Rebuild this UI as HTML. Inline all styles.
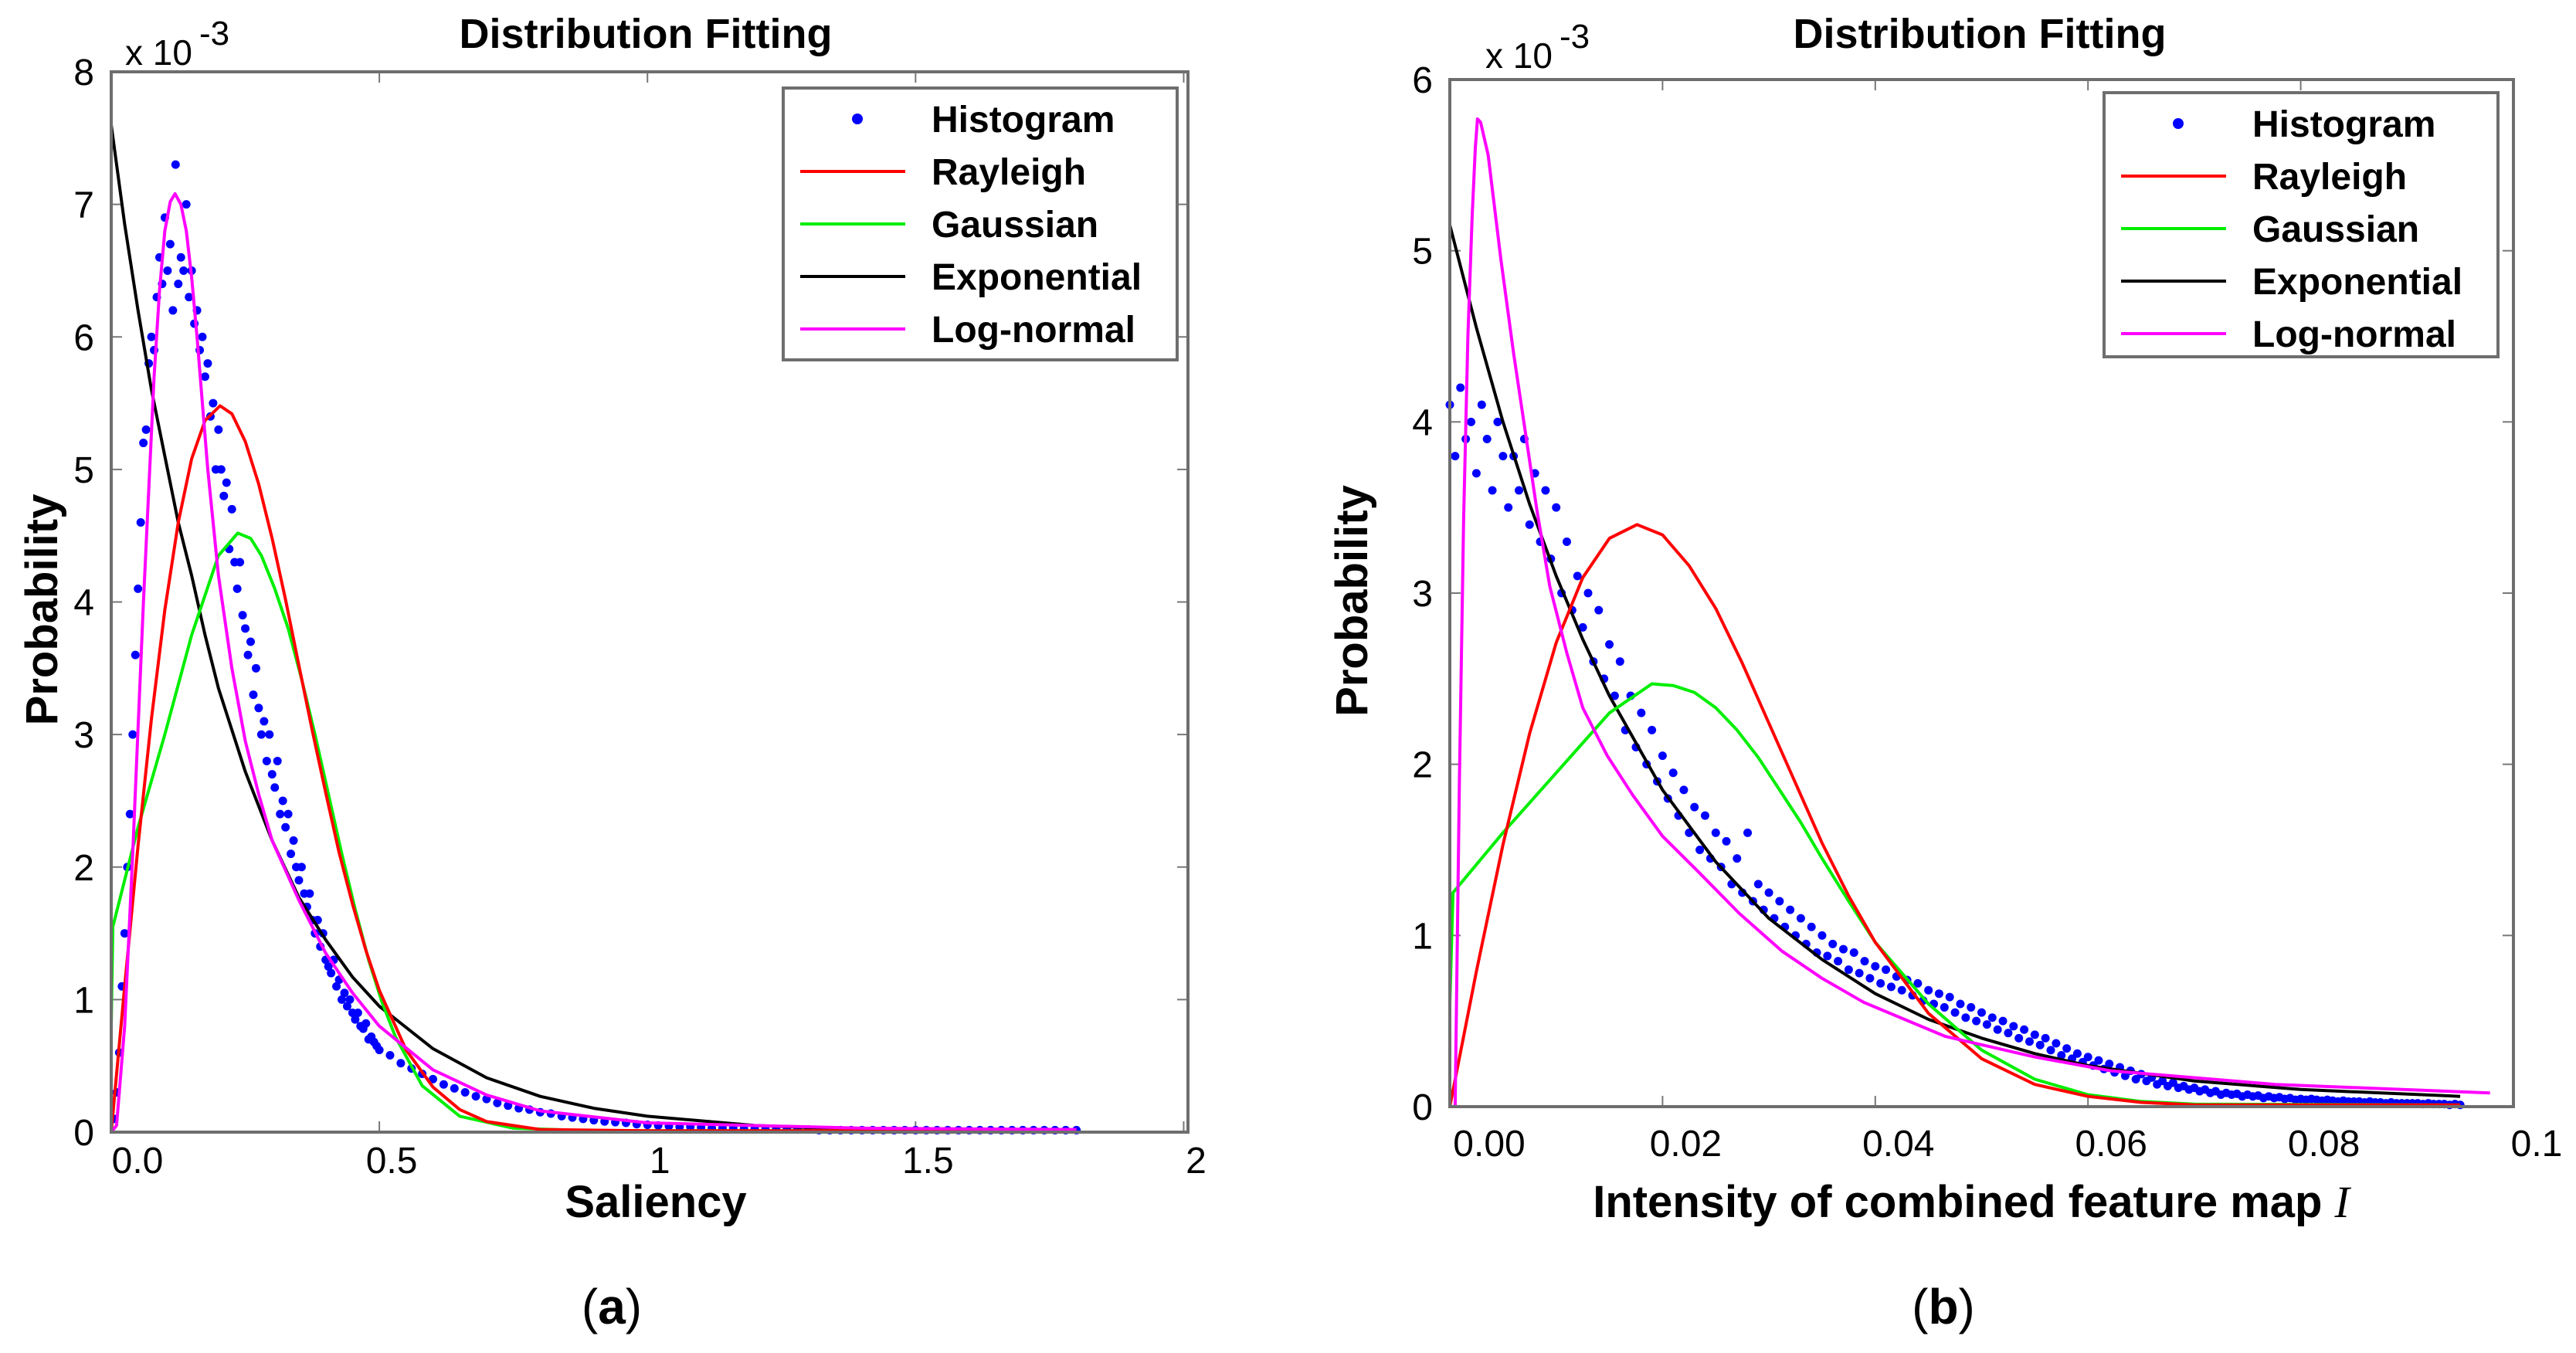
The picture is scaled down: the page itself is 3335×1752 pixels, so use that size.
<!DOCTYPE html>
<html><head><meta charset="utf-8"><title>Distribution Fitting</title>
<style>
html,body{margin:0;padding:0;background:#fff;}
svg{display:block;}
text{font-family:"Liberation Sans",sans-serif;fill:#000;}
</style></head>
<body>
<svg id="fig" width="3335" height="1752" viewBox="0 0 3335 1752" xmlns="http://www.w3.org/2000/svg"></svg>
<script>
// ---------- Panel (a) data ----------
const aXTicks = [0, 0.5, 1, 1.5, 2];
const aXTickLabels = ["0.0", "0.5", "1", "1.5", "2"];
const aYTicks = [0, 1, 2, 3, 4, 5, 6, 7, 8];
const aHist1Start = 0.005, aHist1Step = 0.005;
const aHist1Y = [0.1,0.3,0.6,1.1,1.5,2.0,2.4,3.0,3.6,4.1,4.6,5.2,5.3,5.8,6.0,5.9,6.3,6.6,6.4,6.9,6.5,6.7,6.2,7.3,6.4,6.6,6.5,7.0,6.3,6.5,6.1,6.2,5.9,6.0,5.7,5.8,5.4,5.5,5.0,5.3,5.0,4.8,4.9,4.4,4.7,4.3,4.1,4.3,3.9,3.8,3.6,3.7,3.3,3.5,3.2,3.0,3.1,2.8,3.0,2.7,2.6,2.8,2.4,2.5,2.3,2.4,2.1,2.2,2.0,1.9,2.0,1.8,1.7,1.8,1.6,1.5,1.6,1.4,1.5,1.3,1.25,1.2,1.3,1.1,1.15,1.0,1.05,0.95,1.0,0.9,0.85,0.9,0.8,0.78,0.82,0.7,0.72,0.68,0.65,0.62];
const aHist2Start = 0.52, aHist2Step = 0.02;
const aHist2Y = [0.58,0.52,0.48,0.44,0.4,0.36,0.33,0.3,0.27,0.25,0.22,0.2,0.18,0.17,0.15,0.14,0.12,0.11,0.1,0.09,0.08,0.075,0.07,0.06,0.055,0.05,0.045,0.04,0.04,0.035,0.03,0.03,0.03,0.025,0.025,0.02,0.02,0.02,0.02,0.02,0.015,0.015,0.015,0.015,0.015,0.015,0.015,0.015,0.015,0.015,0.015,0.015,0.015,0.015,0.015,0.015,0.015,0.015,0.015,0.015,0.015,0.015,0.015,0.015,0.015];
const aRayX = [0,0.025,0.05,0.075,0.1,0.125,0.15,0.175,0.203,0.225,0.25,0.275,0.3,0.325,0.35,0.375,0.4,0.425,0.45,0.475,0.5,0.55,0.6,0.65,0.7,0.8,1.0,1.8];
const aRayY = [0,1.10,2.16,3.12,3.94,4.6,5.08,5.37,5.48,5.42,5.21,4.89,4.48,4.02,3.52,3.03,2.56,2.11,1.72,1.37,1.07,0.62,0.34,0.17,0.08,0.02,0.01,0.01];
const aGauX = [0,0.003,0.05,0.1,0.15,0.2,0.236,0.26,0.28,0.305,0.33,0.355,0.38,0.405,0.43,0.455,0.48,0.505,0.53,0.58,0.65,0.75,0.9,1.8];
const aGauY = [0.8,1.55,2.3,3.0,3.75,4.35,4.52,4.48,4.35,4.1,3.8,3.42,3.0,2.55,2.1,1.68,1.3,0.98,0.72,0.35,0.12,0.03,0.01,0.01];
const aExpX = [0,0,0.025,0.05,0.075,0.1,0.125,0.15,0.175,0.2,0.25,0.3,0.35,0.4,0.45,0.5,0.6,0.7,0.8,0.9,1.0,1.2,1.4,1.8];
const aExpY = [0,7.6,6.85,6.2,5.6,5.1,4.6,4.2,3.75,3.35,2.72,2.2,1.77,1.45,1.17,0.95,0.63,0.41,0.27,0.18,0.12,0.05,0.02,0.01];
const aLogX = [0,0.01,0.025,0.04,0.06,0.08,0.09,0.1,0.11,0.119,0.13,0.14,0.15,0.16,0.17,0.18,0.19,0.2,0.225,0.25,0.275,0.3,0.35,0.4,0.45,0.5,0.6,0.7,0.8,1.0,1.4,1.8];
const aLogY = [0,0.05,0.8,2.1,4.0,5.7,6.35,6.8,7.02,7.08,7.0,6.8,6.45,6.0,5.5,5.0,4.6,4.2,3.5,2.95,2.55,2.2,1.75,1.35,1.05,0.8,0.47,0.28,0.16,0.07,0.03,0.02];

// ---------- Panel (b) data ----------
const bXTicks = [0, 0.02, 0.04, 0.06, 0.08, 0.1];
const bXTickLabels = ["0.00", "0.02", "0.04", "0.06", "0.08", "0.1"];
const bYTicks = [0, 1, 2, 3, 4, 5, 6];
const bHistStart = 0, bHistStep = 0.0005;
const bHistY = [4.1,3.8,4.2,3.9,4.0,3.7,4.1,3.9,3.6,4.0,3.8,
3.5,3.8,3.6,3.9,3.4,3.7,3.3,3.6,3.2,3.5,
3.0,3.3,2.9,3.1,2.8,3.0,2.6,2.9,2.5,2.7,
2.4,2.6,2.2,2.4,2.1,2.3,2.0,2.2,1.9,2.05,
1.8,1.95,1.7,1.85,1.6,1.75,1.5,1.7,1.45,1.6,
1.4,1.55,1.3,1.45,1.25,1.6,1.2,1.3,1.15,1.25,
1.1,1.2,1.05,1.15,1.0,1.1,0.95,1.05,0.9,1.0,
0.88,0.95,0.85,0.92,0.8,0.9,0.78,0.85,0.75,0.82,
0.72,0.8,0.7,0.76,0.68,0.74,0.65,0.72,0.62,0.68,
0.6,0.66,0.58,0.64,0.55,0.6,0.52,0.58,0.5,0.55,
0.48,0.52,0.45,0.5,0.43,0.47,0.4,0.45,0.38,0.42,
0.36,0.4,0.33,0.37,0.3,0.34,0.28,0.31,0.26,0.29,
0.24,0.27,0.22,0.25,0.2,0.23,0.18,0.21,0.16,0.19,
0.15,0.17,0.13,0.15,0.12,0.14,0.11,0.12,0.1,0.11,
0.09,0.1,0.08,0.09,0.07,0.08,0.07,0.075,0.06,0.07,
0.06,0.065,0.05,0.06,0.05,0.055,0.045,0.05,0.04,0.045,
0.04,0.045,0.04,0.035,0.04,0.035,0.03,0.035,0.03,0.03,0.03,0.025,0.03,0.025,0.025,0.02,0.025,0.02,0.02,0.02,0.02,0.02,0.015,0.02,0.015,0.015,0.015,0.01,0.015,0.01];
const bRayX = [0,0.0025,0.005,0.0075,0.01,0.0125,0.015,0.0176,0.02,0.0225,0.025,0.0275,0.03,0.0325,0.035,0.0375,0.04,0.045,0.05,0.055,0.06,0.065,0.07,0.095];
const bRayY = [0,0.79,1.53,2.18,2.71,3.09,3.32,3.40,3.34,3.16,2.91,2.59,2.24,1.89,1.54,1.23,0.96,0.545,0.28,0.13,0.06,0.025,0.01,0.01];
const bGauX = [0,0.0003,0.005,0.01,0.015,0.019,0.021,0.023,0.025,0.027,0.029,0.031,0.033,0.035,0.0375,0.04,0.045,0.05,0.055,0.06,0.065,0.07,0.095];
const bGauY = [0.6,1.25,1.6,1.95,2.3,2.47,2.46,2.42,2.33,2.2,2.04,1.85,1.66,1.45,1.2,0.96,0.6,0.33,0.16,0.07,0.03,0.015,0.01];
const bExpX = [0,0,0.0025,0.005,0.0075,0.01,0.0125,0.015,0.02,0.025,0.03,0.035,0.04,0.045,0.05,0.055,0.06,0.07,0.08,0.095];
const bExpY = [2.6,5.15,4.55,4.0,3.52,3.1,2.73,2.4,1.85,1.43,1.1,0.86,0.66,0.51,0.4,0.31,0.24,0.15,0.1,0.06];
const bLogX = [0.0002,0.0005,0.0009,0.0013,0.0017,0.0021,0.0024,0.0026,0.0029,0.0036,0.0048,0.006,0.0071,0.0082,0.0094,0.011,0.0125,0.0148,0.0172,0.02,0.0234,0.0272,0.0312,0.035,0.0389,0.0466,0.055,0.0621,0.0776,0.0978];
const bLogY = [0,0,1.9,3.44,4.5,5.2,5.6,5.77,5.75,5.56,4.95,4.4,3.94,3.48,3.04,2.65,2.33,2.05,1.82,1.58,1.37,1.13,0.91,0.75,0.61,0.41,0.29,0.21,0.13,0.08];

const NS = "http://www.w3.org/2000/svg";
const svg = document.getElementById('fig');
function mk(tag, attrs, parent) {
  const e = document.createElementNS(NS, tag);
  for (const k in attrs) e.setAttribute(k, attrs[k]);
  (parent || svg).appendChild(e);
  return e;
}
function txt(s, attrs, parent) { const t = mk('text', attrs, parent); t.textContent = s; return t; }

function panel(cfg) {
  const g = mk('g', {});
  
  
  const L = cfg.L, R = cfg.R, T = cfg.T, B = cfg.B;
  const sx = v => L + (v - cfg.x0) / (cfg.x1 - cfg.x0) * (R - L);
  const sy = v => B - (v - cfg.y0) / (cfg.y1 - cfg.y0) * (B - T);
  const tg = mk('g', {stroke: '#777', 'stroke-width': 2}, g);
  
  
  cfg.xTicks.forEach(v => {
    mk('line', {x1: sx(v), x2: sx(v), y1: B, y2: B - 14}, tg);
    mk('line', {x1: sx(v), x2: sx(v), y1: T, y2: T + 14}, tg);
  });
  cfg.yTicks.forEach(v => {
    mk('line', {x1: L, x2: L + 14, y1: sy(v), y2: sy(v)}, tg);
    mk('line', {x1: R, x2: R - 14, y1: sy(v), y2: sy(v)}, tg);
  });
  cfg.xTicks.forEach((v, i) => {
    const t = txt(cfg.xTickLabels[i], {x: sx(v) + (i === 0 ? cfg.firstOff : cfg.lblOff), y: cfg.xLblY, 'font-size': 48, 'text-anchor': 'middle'}, g);
    
    
  });
  cfg.yTicks.forEach(v => {
    const t = txt(String(v), {x: L - 22, y: sy(v) + 17, 'font-size': 48, 'text-anchor': 'end'}, g);
    
    
  });
  const cp = mk('clipPath', {id: cfg.name + '-clip'}, g);
  mk('rect', {x: L - 8, y: T, width: R - L + 8, height: B - T + 8}, cp);
  const plot = mk('g', {'clip-path': 'url(#' + cfg.name + '-clip)'}, g);
  const hg = mk('g', {fill: '#0000ff'}, plot);
  
  
  cfg.hist.forEach(h => {
    h.ys.forEach((y, i) => {
      const c = mk('circle', {cx: sx(h.start + i * h.step), cy: sy(y), r: 5.5}, hg);
      
      
    });
  });
  cfg.curves.forEach(cv => {
    const d = cv.xs.map((x, i) => (i ? 'L' : 'M') + sx(x).toFixed(1) + ' ' + sy(cv.ys[i]).toFixed(1)).join(' ');
    const p = mk('path', {d: d, fill: 'none', stroke: cv.color, 'stroke-width': 4, 'stroke-linejoin': 'round'}, plot);
    
    
  });
  const fr = mk('rect', {x: L, y: T, width: R - L, height: B - T, fill: 'none', stroke: '#6e6e6e', 'stroke-width': 4}, g);
  
  
  const ex = txt('x 10', {x: cfg.expX, y: cfg.expY, 'font-size': 46}, g);
  
  
  const ex2 = txt('-3', {x: cfg.expX + 96, y: cfg.expY - 26, 'font-size': 44}, g);
  
  
  const ti = txt('Distribution Fitting', {x: cfg.titleX, y: 62, 'font-size': 54, 'font-weight': 'bold', 'text-anchor': 'middle'}, g);
  
  
  const yl = txt('Probability', {x: 0, y: 0, 'font-size': 58, 'font-weight': 'bold', 'text-anchor': 'middle', transform: 'translate(' + cfg.yLabX + ',' + ((T + B) / 2 + 10) + ') rotate(-90)'}, g);
  
  
  const xl = txt(cfg.xTitle, {x: cfg.xTitleX, y: 1576, 'font-size': 58, 'font-weight': 'bold', 'text-anchor': 'middle'}, g);
  
  
  if (cfg.italicI) {
    const ii = mk('tspan', {'font-family': '"Liberation Serif",serif', 'font-style': 'italic', 'font-weight': 'normal', dx: 16}, xl);
    ii.textContent = 'I';
  }
  const pl = txt('(', {x: cfg.letterX, y: 1714, 'font-size': 64, 'text-anchor': 'middle', 'font-family': '"Liberation Serif",serif'}, g);
  
  
  const b = mk('tspan', {'font-weight': 'bold'}, pl); b.textContent = cfg.letter;
  const c2 = mk('tspan', {}, pl); c2.textContent = ')';
  const lg = mk('g', {}, g);
  
  
  mk('rect', {x: cfg.legX, y: cfg.legY, width: cfg.legW, height: cfg.legH, fill: '#fff', stroke: '#6e6e6e', 'stroke-width': 4}, lg);
  const labels = ['Histogram', 'Rayleigh', 'Gaussian', 'Exponential', 'Log-normal'];
  const colors = ['#0000ff', '#ff0000', '#00ee00', '#000000', '#ff00ff'];
  labels.forEach((lab, i) => {
    const e = mk('g', {}, lg);
    
    
    const cy = cfg.legY + 40 + i * 68;
    if (i === 0) mk('circle', {cx: cfg.legX + 96, cy: cy, r: 7, fill: colors[0]}, e);
    else mk('line', {x1: cfg.legX + 22, x2: cfg.legX + 158, y1: cy, y2: cy, stroke: colors[i], 'stroke-width': 4}, e);
    txt(lab, {x: cfg.legX + 192, y: cy + 17, 'font-size': 48, 'font-weight': 'bold'}, e);
  });
}

panel({name: 'panel-a', L: 144, R: 1538, T: 93, B: 1466, x0: 0, x1: 2.008, y0: 0, y1: 8,
  xTicks: aXTicks, xTickLabels: aXTickLabels, yTicks: aYTicks, firstOff: 34, lblOff: 16, xLblY: 1519,
  hist: [{start: aHist1Start, step: aHist1Step, ys: aHist1Y}, {start: aHist2Start, step: aHist2Step, ys: aHist2Y}],
  curves: [
    {label: 'Exponential', color: '#000000', xs: aExpX, ys: aExpY},
    {label: 'Gaussian', color: '#00ee00', xs: aGauX, ys: aGauY},
    {label: 'Rayleigh', color: '#ff0000', xs: aRayX, ys: aRayY},
    {label: 'Lognormal', color: '#ff00ff', xs: aLogX, ys: aLogY}],
  expX: 162, expY: 84, titleX: 836, yLabX: 74, xTitle: 'Saliency', xTitleX: 849, letter: 'a', letterX: 792,
  legX: 1014, legY: 114, legW: 510, legH: 352});

panel({name: 'panel-b', L: 1877, R: 3254, T: 103, B: 1433, x0: 0, x1: 0.1, y0: 0, y1: 6,
  xTicks: bXTicks, xTickLabels: bXTickLabels, yTicks: bYTicks, firstOff: 51, lblOff: 30, xLblY: 1497,
  hist: [{start: bHistStart, step: bHistStep, ys: bHistY}],
  curves: [
    {label: 'Exponential', color: '#000000', xs: bExpX, ys: bExpY},
    {label: 'Gaussian', color: '#00ee00', xs: bGauX, ys: bGauY},
    {label: 'Rayleigh', color: '#ff0000', xs: bRayX, ys: bRayY},
    {label: 'Lognormal', color: '#ff00ff', xs: bLogX, ys: bLogY}],
  expX: 1923, expY: 88, titleX: 2563, yLabX: 1770, xTitle: 'Intensity of combined feature map', xTitleX: 2552, italicI: true, letter: 'b', letterX: 2516,
  legX: 2724, legY: 120, legW: 510, legH: 342});
</script>
</body></html>
